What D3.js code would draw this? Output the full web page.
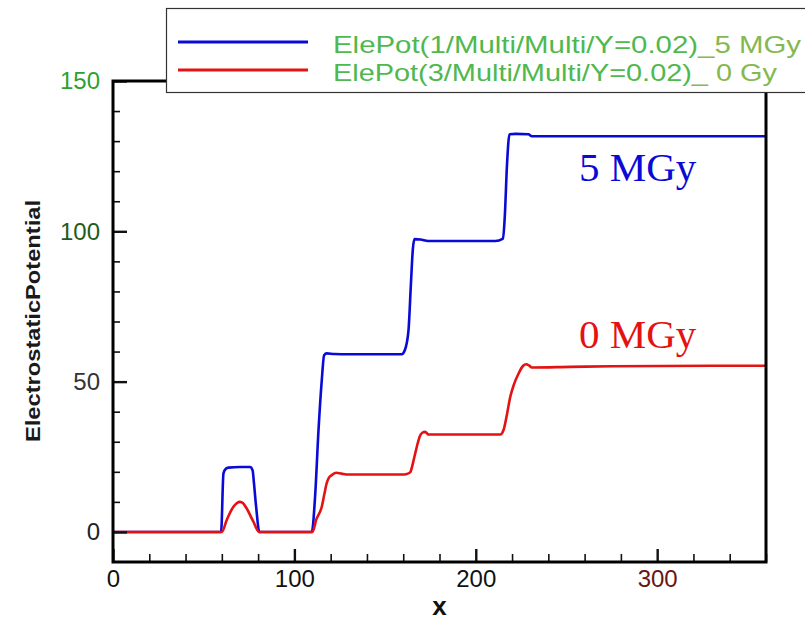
<!DOCTYPE html>
<html>
<head>
<meta charset="utf-8">
<script src="https://cdn.jsdelivr.net/npm/d3@7"></script>
<style>
  html, body { margin: 0; padding: 0; background: #fff; }
  svg { display: block; }
</style>
</head>
<body>
<svg id="chart" width="805" height="622"></svg>
<script>
// Electrostatic potential along x, two irradiation doses
const xTicksMajor = [0, 100, 200, 300];
const yTicksMajor = [0, 50, 100, 150];
const xTickLabelColors = ["#111", "#111", "#111", "#6a1414"];
const yTickLabelColors = ["#222", "#333", "#1e5a1e", "#2f9f2f"];

const seriesNames = [
  "ElePot(1/Multi/Multi/Y=0.02)_5 MGy",
  "ElePot(3/Multi/Multi/Y=0.02)_ 0 Gy"
];
const seriesColors = ["#0a0ad6", "#e41212"];
const annotations = ["5 MGy", "0 MGy"];

// 5 MGy profile: [x, potential]
const pot5MGy = [
  [0, 0], [59.6, 0], [60.9, 19.5], [62.2, 21.0], [63.7, 21.4], [70, 21.6],
  [75.6, 21.6], [77.0, 20.4], [77.6, 17], [78.9, 8.4], [80.7, 0], [109.6, 0],
  [111.4, 11.7], [113.3, 33.9], [115.1, 50.5], [116.4, 58.8], [117.8, 59.4],
  [122, 59.2], [130, 59.1], [159.2, 59.1], [160.9, 60.5], [162.9, 67],
  [164.2, 82], [165.3, 94], [166.2, 97.4], [169.5, 97.3], [173.7, 96.8],
  [202, 96.8], [210.7, 96.8], [215, 97.6], [216, 105], [217.2, 122],
  [218.6, 132.3], [222, 132.4], [229, 132.3], [230.9, 131.6], [360, 131.6]
];

// 0 Gy profile: [x, potential]
const pot0Gy = [
  [0, 0], [60, 0], [62.7, 4.0], [66.4, 8.4], [68.5, 9.7], [70, 10.0],
  [71.6, 9.6], [73.7, 7.8], [77.4, 3.4], [80.5, 0], [110, 0], [112, 4],
  [115.1, 8.4], [116.5, 12.5], [117.8, 16.2], [119, 18], [120.6, 18.9],
  [123, 19.7], [126, 19.4], [129.8, 19.1], [159.2, 19.1], [162, 19.3],
  [163.8, 19.8], [165.2, 22.5], [166.6, 26.1], [168, 29.5], [169, 31.6],
  [170.5, 33], [172.1, 33.3], [173.9, 32.4], [213.5, 32.4], [215.3, 33.9],
  [217, 38.5], [219, 44.9], [221, 49], [223.6, 52.7], [226, 55.2],
  [227.8, 55.8], [229.5, 55.3], [230.9, 54.7], [252, 54.9], [275, 55.1],
  [360, 55.3]
];

const series = [pot5MGy, pot0Gy];

const svg = d3.select("#chart");
const plotLeft = 113, plotRight = 766, plotTop = 81, plotBottom = 562;

const x = d3.scaleLinear().domain([0, 360]).range([plotLeft, plotRight]);
const y = d3.scaleLinear().domain([-10, 150]).range([plotBottom, plotTop]);

const xMinor = d3.range(0, 361, 20).filter(v => v % 100 !== 0);
const yMinor = d3.range(0, 151, 10).filter(v => v % 50 !== 0);

const line = d3.line()
  .x(d => x(d[0]))
  .y(d => y(d[1]))
  .curve(d3.curveMonotoneX);

// data curves (0 Gy drawn on top)
svg.append("g").selectAll("path")
  .data(series)
  .join("path")
  .attr("d", line)
  .attr("fill", "none")
  .attr("stroke", (d, i) => seriesColors[i])
  .attr("stroke-width", 2.6)
  .attr("stroke-linejoin", "round");

// minor ticks
svg.append("g")
  .attr("transform", `translate(0,${plotBottom})`)
  .call(d3.axisBottom(x).tickValues(xMinor).tickSize(-8).tickFormat(""))
  .call(g => g.select(".domain").remove())
  .call(g => g.selectAll("line").attr("stroke", "#111").attr("stroke-width", 1.6));

svg.append("g")
  .attr("transform", `translate(${plotLeft},0)`)
  .call(d3.axisLeft(y).tickValues(yMinor).tickSize(-7).tickFormat(""))
  .call(g => g.select(".domain").remove())
  .call(g => g.selectAll("line").attr("stroke", "#111").attr("stroke-width", 1.6));

// major ticks with labels
const xAxis = svg.append("g")
  .attr("transform", `translate(0,${plotBottom})`)
  .call(d3.axisBottom(x).tickValues(xTicksMajor).tickSize(-13).tickPadding(8).tickFormat(d3.format("d")))
  .call(g => g.select(".domain").remove());
xAxis.selectAll("line").attr("stroke", "#111").attr("stroke-width", 2.4);
xAxis.selectAll("text")
  .attr("font-family", "Liberation Sans, Arial, sans-serif")
  .attr("font-size", 24)
  .attr("fill", (d, i) => xTickLabelColors[i]);

const yAxis = svg.append("g")
  .attr("transform", `translate(${plotLeft},0)`)
  .call(d3.axisLeft(y).tickValues(yTicksMajor).tickSize(-14).tickPadding(13).tickFormat(d3.format("d")))
  .call(g => g.select(".domain").remove());
yAxis.selectAll("line").attr("stroke", "#111").attr("stroke-width", 2.4);
yAxis.selectAll("text")
  .attr("font-family", "Liberation Sans, Arial, sans-serif")
  .attr("font-size", 24)
  .attr("fill", (d, i) => yTickLabelColors[i]);

// plot frame
svg.append("rect")
  .attr("x", plotLeft).attr("y", plotTop)
  .attr("width", plotRight - plotLeft).attr("height", plotBottom - plotTop)
  .attr("fill", "none")
  .attr("stroke", "#000")
  .attr("stroke-width", 3);

// axis titles
svg.append("text")
  .attr("x", (plotLeft + plotRight) / 2)
  .attr("y", 615)
  .attr("text-anchor", "middle")
  .attr("font-family", "Liberation Sans, Arial, sans-serif")
  .attr("font-weight", "bold")
  .attr("font-size", 26)
  .attr("fill", "#111")
  .text("x");

svg.append("text")
  .attr("transform", "translate(40,321) rotate(-90)")
  .attr("text-anchor", "middle")
  .attr("font-family", "Liberation Sans, Arial, sans-serif")
  .attr("font-weight", "bold")
  .attr("font-size", 21)
  .attr("fill", "#1a1a1a")
  .attr("textLength", 242)
  .attr("lengthAdjust", "spacingAndGlyphs")
  .text("ElectrostaticPotential");

// dose annotations, placed relative to each curve's plateau
const annAnchor = [131.6, 55.3];
const annShift = [45, -18];
svg.append("g").selectAll("text")
  .data(annotations)
  .join("text")
  .attr("x", 579)
  .attr("y", (d, i) => y(annAnchor[i]) + annShift[i])
  .attr("font-family", "Liberation Serif, Times New Roman, serif")
  .attr("font-size", 41)
  .attr("fill", (d, i) => seriesColors[i])
  .text(d => d);

// legend
const legend = svg.append("g");
legend.append("rect")
  .attr("x", 166.5).attr("y", 8.5)
  .attr("width", 700).attr("height", 84)
  .attr("fill", "#fff")
  .attr("stroke", "#333")
  .attr("stroke-width", 1.2);

const legendRowY = [42, 70];
const legendTextLen = [468, 444];
seriesNames.forEach((name, i) => {
  legend.append("line")
    .attr("x1", 178).attr("x2", 308)
    .attr("y1", legendRowY[i]).attr("y2", legendRowY[i])
    .attr("stroke", seriesColors[i])
    .attr("stroke-width", 3);
  const cut = name.indexOf(")") + 1;
  const t = legend.append("text")
    .attr("x", 333)
    .attr("y", legendRowY[i] + 11)
    .attr("font-family", "Liberation Sans, Arial, sans-serif")
    .attr("font-size", 24)
    .attr("textLength", legendTextLen[i])
    .attr("lengthAdjust", "spacingAndGlyphs");
  t.append("tspan").attr("fill", "#4fb84f").text(name.slice(0, cut));
  t.append("tspan").attr("fill", "#86b850").text(name.slice(cut));
});
</script>
</body>
</html>
